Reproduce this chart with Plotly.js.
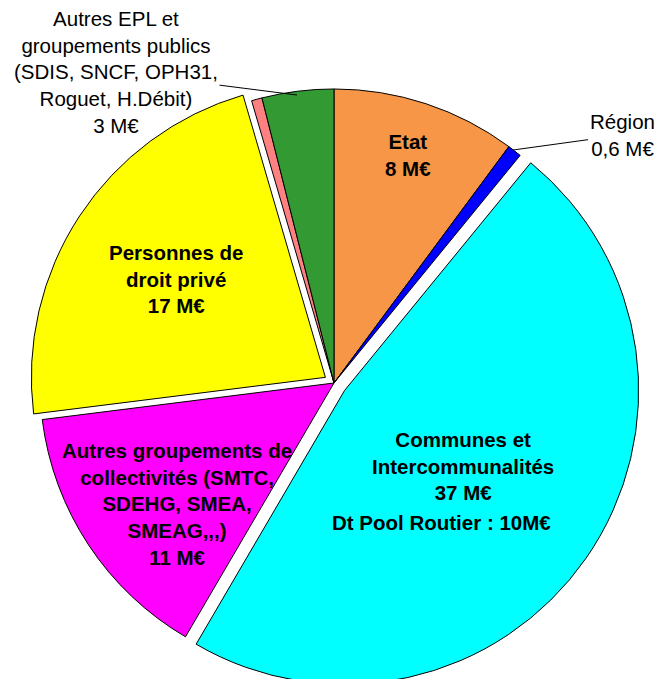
<!DOCTYPE html>
<html>
<head>
<meta charset="utf-8">
<script src="https://cdn.plot.ly/plotly-3.0.1.min.js"></script>
<style>
html,body{margin:0;padding:0;overflow:hidden;background:#fff;width:660px;height:679px;}
#chart{width:660px;height:720px;}
</style>
</head>
<body>
<div id="chart"></div>
<script>
// Data (millions €), clockwise from 12 o'clock
const categories = [
  "Etat",
  "Région",
  "Communes et Intercommunalités",
  "Autres groupements de collectivités",
  "Personnes de droit privé",
  "Autres (non libellé)",
  "Autres EPL et groupements publics"
];
const values = [7.85, 0.6, 36.8, 11.3, 17.4, 0.45, 3.05];
const colors = ["#F79646", "#0000FF", "#00FFFF", "#FF00FF", "#FFFF00", "#FF8080", "#339933"];
const pulls = [0, 0, 0.044, 0, 0.035, 0, 0];

// Label texts
const labelEtat = "Etat<br>8 M€";
const labelRegion = "Région<br>0,6 M€";
const labelCommunes = "Communes et<br>Intercommunalités<br>37 M€";
const labelPool = "Dt Pool Routier : 10M€";
const labelGroupements = "Autres groupements de<br>collectivités (SMTC,<br>SDEHG, SMEA,<br>SMEAG,,,)<br>11 M€";
const labelPrive = "Personnes de<br>droit privé<br>17 M€";
const labelEPL = "Autres EPL et<br>groupements publics<br>(SDIS, SNCF, OPH31,<br>Roguet, H.Débit)<br>3 M€";

const W = 660, H = 720;
const px = x => x / W;
const py = y => 1 - y / H;

const boldFont = {family: "Liberation Sans, Arial, sans-serif", size: 20.5, color: "#000"};
const regFont = {family: "Liberation Sans, Arial, sans-serif", size: 20.5, color: "#000"};

function lab(text, x, y, font) {
  return {text: "<b>" + text.split("<br>").join("</b><br><b>") + "</b>", x: px(x), y: py(y), xref: "paper", yref: "paper",
          showarrow: false, xanchor: "center", yanchor: "middle", align: "center", font: font};
}

const annotations = [
  lab(labelEtat, 408, 155, boldFont),
  lab(labelCommunes, 463, 466, boldFont),
  lab(labelPool, 441, 522, boldFont),
  lab(labelGroupements, 177, 504, boldFont),
  lab(labelPrive, 176, 279, boldFont),
  {text: labelRegion, x: px(513), y: py(150), xref: "paper", yref: "paper",
   showarrow: true, arrowhead: 0, arrowwidth: 1, arrowcolor: "#000",
   axref: "pixel", ayref: "pixel", ax: 109, ay: -15, align: "center", font: regFont},
  {text: labelEPL, x: px(297), y: py(95), xref: "paper", yref: "paper",
   showarrow: true, arrowhead: 0, arrowwidth: 1, arrowcolor: "#000",
   axref: "pixel", ayref: "pixel", ax: -181, ay: -23, align: "center", font: regFont}
];

const trace = {
  type: "pie",
  labels: categories,
  values: values,
  sort: false,
  direction: "clockwise",
  rotation: 0,
  pull: pulls,
  textinfo: "none",
  hoverinfo: "label+value",
  marker: {colors: colors, line: {color: "#000", width: 1}},
  domain: {x: [0.0409, 0.9712], y: [0.0417, 0.8944]},
  showlegend: false
};

Plotly.newPlot("chart", [trace], {
  width: W, height: H,
  margin: {l: 0, r: 0, t: 0, b: 0},
  paper_bgcolor: "#fff",
  showlegend: false,
  annotations: annotations
}, {displayModeBar: false, staticPlot: true});
</script>
</body>
</html>
